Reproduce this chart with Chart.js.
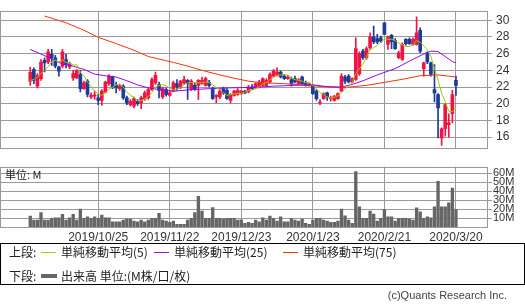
<!DOCTYPE html>
<html><head><meta charset="utf-8">
<script src="https://cdn.jsdelivr.net/npm/chart.js@4.4.1/dist/chart.umd.min.js"></script>
<style>
html,body{margin:0;padding:0;background:#fff;}
body{width:525px;height:307px;position:relative;overflow:hidden;font-family:"Noto Sans CJK JP","DejaVu Sans",sans-serif;color:#222;}
canvas{position:absolute;left:0;}
#c1{top:0;}
#c2{top:160px;}
.t{position:absolute;white-space:nowrap;font-size:11px;line-height:12px;}
.legend{position:absolute;left:0;top:243px;width:523px;height:40px;border:1px solid #000;}
.legend .t{font-size:12px;line-height:13px;}
.ln{position:absolute;height:1px;width:15px;}
.copy{position:absolute;right:18px;top:289px;font-family:"Liberation Sans",Arial,sans-serif;font-size:11px;color:#444;}
</style></head>
<body>
<canvas id="c1" width="525" height="160"></canvas>
<canvas id="c2" width="525" height="85"></canvas>
<div class="t" style="left:5px;top:168px;">単位: M</div>
<div class="legend">
  <div class="t" style="left:8px;top:1px;">上段:</div>
  <div class="ln" style="left:40px;top:8px;background:#99cc00;"></div>
  <div class="t" style="left:60px;top:1px;">単純移動平均(5)</div>
  <div class="ln" style="left:153px;top:8px;background:#9900ff;"></div>
  <div class="t" style="left:173px;top:1px;">単純移動平均(25)</div>
  <div class="ln" style="left:282px;top:8px;background:#ff3300;"></div>
  <div class="t" style="left:302px;top:1px;">単純移動平均(75)</div>
  <div class="t" style="left:8px;top:25px;">下段:</div>
  <div class="ln" style="left:40px;top:30px;height:4px;width:16px;background:#666;"></div>
  <div class="t" style="left:60px;top:25px;">出来高 単位:(M株/口/枚)</div>
</div>
<div class="copy">(c)Quants Research Inc.</div>
<script>
// ---- data (trading-day index 0..119) ----
const tickIdx = [19, 39, 59, 79, 99, 119];
const tickLabels = ['2019/10/25', '2019/11/22', '2019/12/23', '2020/1/23', '2020/2/21', '2020/3/20'];
const priceTicks = [16, 18, 20, 22, 24, 26, 28, 30];
const volTicks = [10, 20, 30, 40, 50, 60];

const open = [22.7,24.1,22.1,23.0,25.2,25.0,25.9,25.5,24.4,24.5,25.3,24.4,23.1,23.1,23.5,21.8,22.7,20.8,20.9,20.7,
20.4,21.4,22.4,23.2,22.2,21.8,22.1,20.7,19.9,19.7,20.3,20.1,20.6,20.7,21.7,22.5,22.3,20.8,21.7,21.0,
21.5,22.4,22.0,22.5,22.8,21.7,22.2,22.2,22.4,22.2,22.6,21.8,20.8,20.8,21.8,21.6,20.4,21.0,21.1,21.2,
21.5,21.4,22.0,21.9,22.0,22.2,22.2,22.6,23.3,23.4,23.8,23.3,23.0,22.9,23.0,22.4,23.2,22.5,22.2,22.2,
21.5,20.1,20.6,21.3,20.6,20.4,20.6,21.5,23.2,23.3,22.6,22.9,23.6,26.3,25.5,26.7,28.0,27.8,27.9,29.7,
27.1,28.2,27.6,25.5,25.3,27.7,27.7,27.1,27.1,28.8,24.2,26.1,24.9,21.7,21.1,15.9,17.0,17.5,18.8,22.8];
const high = [24.4,24.3,23.6,25.3,25.5,26.5,26.5,25.8,24.5,26.5,25.9,25.0,24.0,24.1,24.0,22.7,22.9,21.3,21.5,21.1,
21.7,22.7,23.5,23.3,22.6,22.3,22.3,20.9,20.5,20.8,20.5,20.9,21.5,21.9,23.1,23.8,22.6,22.0,21.9,21.6,
22.7,22.9,22.8,23.3,22.9,22.9,22.5,22.9,23.2,23.2,22.8,22.0,21.1,21.7,22.0,21.8,21.2,21.6,21.8,21.6,
21.6,22.2,22.3,22.5,22.8,23.1,23.0,23.7,24.1,24.3,23.9,23.5,23.4,23.2,23.3,23.0,23.3,22.7,22.5,22.3,
21.7,20.5,21.3,21.4,20.9,21.0,21.3,23.6,23.4,23.5,23.1,27.9,26.2,26.5,26.8,28.5,29.3,28.3,28.1,29.7,
28.1,28.3,27.8,26.3,27.3,27.8,27.9,27.9,30.4,29.1,25.0,26.2,25.0,24.7,21.2,17.1,20.0,18.8,21.6,23.3];
const low = [22.2,22.4,21.9,22.8,23.8,24.8,24.6,24.3,23.3,24.3,24.3,24.2,22.8,23.0,21.4,21.7,20.8,20.6,20.5,19.9,
19.8,21.3,22.2,21.8,21.3,21.6,20.5,19.9,19.7,19.5,19.8,19.4,20.4,20.5,21.6,22.3,20.7,20.6,20.9,20.9,
21.4,21.6,21.8,22.3,20.5,21.6,21.6,20.5,22.3,22.1,22.0,20.5,20.1,20.6,21.1,20.5,20.1,20.9,21.0,21.1,
21.2,21.3,21.7,21.8,21.9,22.1,22.1,22.5,23.2,23.3,23.1,22.9,22.9,22.1,22.5,22.3,22.3,22.1,22.1,21.1,
20.4,19.9,20.5,20.4,20.3,20.3,20.5,21.4,22.4,22.5,22.5,22.8,23.4,25.3,25.3,26.5,27.2,27.2,27.3,28.3,
26.5,26.6,26.5,25.4,25.2,27.0,27.1,27.0,27.0,26.1,23.3,24.8,23.3,20.2,15.9,15.0,16.1,16.0,17.7,21.0];
const close = [23.75,22.8,23.4,25.0,24.9,26.2,25.5,24.5,23.9,26.2,24.7,24.8,23.6,24.0,21.8,22.5,21.1,21.0,21.05,20.4,
21.5,22.6,23.3,22.0,21.9,22.1,20.7,20.1,20.3,20.6,20.0,20.7,21.3,21.7,22.9,23.4,21.6,21.8,21.1,21.3,
22.5,22.0,22.7,22.9,22.4,22.7,21.8,22.8,22.8,23.0,22.2,20.6,21.0,21.5,21.3,20.6,21.1,21.5,21.6,21.5,
21.3,22.0,21.8,22.4,22.6,23.0,22.8,23.5,23.9,23.8,23.2,23.0,23.2,22.4,22.6,22.9,22.4,22.2,22.4,21.2,
20.6,20.2,21.2,20.8,20.7,20.9,21.2,23.3,22.7,22.6,23.0,26.6,26.0,25.5,26.6,28.0,27.4,27.4,27.5,28.3,
28.0,27.4,26.6,26.1,27.1,27.2,27.2,27.7,28.5,26.3,24.9,25.0,23.5,21.3,19.5,17.0,19.9,17.7,21.1,22.2];
const volume = [12.2,7.8,7.8,16.3,7.8,7.8,9.6,10.4,10.4,14.1,7.8,10.4,14.1,7.8,20.0,9.6,11.5,9.6,11.5,9.6,
13.3,10.4,10.4,5.9,5.9,5.9,7.8,8.9,8.9,6.7,5.9,7.8,5.9,7.8,9.6,9.6,15.2,7.8,6.7,5.2,
6.7,3.0,3.0,3.0,7.8,9.6,16.3,34.4,17.8,9.6,9.6,21.8,9.6,9.6,8.9,9.6,9.6,9.6,7.8,8.0,
4.1,5.2,4.1,7.8,5.9,10.4,7.8,12.2,9.6,6.7,11.5,5.9,5.9,9.6,7.8,6.7,8.9,4.1,3.0,7.8,
9.6,9.6,7.8,6.7,5.2,5.2,6.7,20.0,12.6,7.8,4.1,62.2,22.6,9.6,9.6,17.8,14.4,6.7,9.6,19.6,
11.5,11.5,6.7,9.6,9.6,9.6,8.9,7.8,21.5,17.0,9.6,11.5,10.4,22.6,51.1,22.6,22.6,27.0,43.7,19.6];
const ma5 = [22.8,22.9,23.2,23.6,23.97,24.46,25.0,25.22,25.0,25.26,24.96,24.82,24.64,24.66,23.78,23.34,22.6,22.08,21.48,21.2,
21.0,21.3,21.76,21.96,22.26,22.38,22.0,21.36,21.02,20.76,20.34,20.34,20.58,20.86,21.32,22.0,22.18,22.28,22.16,21.84,
21.66,21.74,21.92,22.28,22.5,22.54,22.5,22.52,22.5,22.62,22.52,22.28,21.92,21.66,21.32,21.0,21.1,21.2,21.22,21.26,
21.4,21.58,21.64,21.8,22.02,22.36,22.52,22.86,23.16,23.4,23.44,23.48,23.42,23.12,22.88,22.82,22.7,22.5,22.5,22.22,
21.76,21.32,21.12,20.8,20.7,20.76,20.96,21.38,21.76,22.14,22.56,23.64,24.18,24.74,25.54,26.54,26.7,26.98,27.38,27.72,
27.72,27.72,27.56,27.28,27.04,26.88,26.84,27.06,27.54,27.38,26.92,26.48,25.64,24.2,22.84,21.26,20.24,19.08,19.04,19.5];
const ma25Idx = [0,3,6,9,12,15,18,21,24,27,30,33,36,40,44,50,56,62,68,74,79,83,87,90,93,97,102,106,110,112,114,116,118,119];
const ma25Val = [26.5,25.95,25.35,24.75,24.5,24.1,23.55,23.35,23.2,22.75,22.25,21.9,21.7,21.5,21.65,21.8,21.9,21.95,22.1,22.2,22.25,22.05,22.0,22.3,22.75,23.45,24.2,25.1,25.95,26.3,26.25,25.65,25.05,24.9];
const ma75Idx = [4,10,15,19,24,29,33,38,40,44,48,53,57,61,65,71,76,82,87,94,99,105,109,114,117,119];
const ma75Val = [30.5,29.7,28.8,27.95,27.2,26.4,25.65,25.15,24.95,24.5,24.0,23.45,23.05,22.7,22.5,22.4,22.25,22.05,21.9,22.2,22.55,23.0,23.35,23.45,23.3,23.2];

// ---- styling ----
const RED = '#f01446', BLUE = '#1e3a9a', GRID = '#9a9a9a';
const XMIN = -8.46, XMAX = 127.96;
Chart.defaults.font.family = '"Liberation Sans", Arial, sans-serif';
Chart.defaults.color = '#333';

const idx = close.map((_, i) => i);
const candleColor = c => close[c.dataIndex] >= open[c.dataIndex] ? RED : BLUE;
const frame = {
  id: 'frame',
  beforeDatasetsDraw(c) {
    const {ctx, chartArea: a} = c;
    ctx.save(); ctx.strokeStyle = GRID; ctx.lineWidth = 1;
    ctx.strokeRect(Math.round(a.left) + 0.5, Math.round(a.top) + 0.5, Math.round(a.right - a.left) - 1, Math.round(a.bottom - a.top) - 1);
    ctx.restore();
  }
};
const lineDs = (pts, color) => ({type: 'line', data: pts, borderColor: color, borderWidth: 1, pointRadius: 0, fill: false, tension: 0, order: 0});

new Chart(document.getElementById('c1'), {
  type: 'bar',
  data: {datasets: [
    lineDs(idx.map(i => ({x: i, y: ma5[i]})), '#99cc00'),
    lineDs(ma25Idx.map((x, k) => ({x, y: ma25Val[k]})), '#9900ff'),
    lineDs(ma75Idx.map((x, k) => ({x, y: ma75Val[k]})), '#ff3300'),
    {type: 'bar', data: idx.map(i => ({x: i, y: [low[i], high[i]]})), barThickness: 1, grouped: false, backgroundColor: candleColor, order: 2},
    {type: 'bar', data: idx.map(i => ({x: i, y: [open[i], close[i]]})), barThickness: 3, grouped: false, backgroundColor: candleColor, order: 1}
  ]},
  options: {
    responsive: false, animation: false, events: [],
    layout: {padding: {left: 0, top: 1, right: 0, bottom: 5}},
    plugins: {legend: {display: false}, tooltip: {enabled: false}},
    scales: {
      x: {type: 'linear', min: XMIN, max: XMAX, offset: false,
          afterBuildTicks: s => { s.ticks = tickIdx.map(v => ({value: v})); },
          ticks: {display: false}, grid: {color: GRID, drawTicks: false, offset: false}, border: {display: false},
          afterFit: s => { s.height = 0; }},
      y: {position: 'right', min: 14.6, max: 31.08,
          afterBuildTicks: s => { s.ticks = priceTicks.map(v => ({value: v})); },
          ticks: {font: {size: 12}, padding: 4, autoSkip: false, color: '#333'},
          grid: {color: GRID, tickLength: 4}, border: {display: false},
          afterFit: s => { s.width = 37; }}
    }
  },
  plugins: [frame]
});

new Chart(document.getElementById('c2'), {
  type: 'bar',
  data: {datasets: [
    {data: idx.map(i => ({x: i, y: volume[i]})), barThickness: 2.7, grouped: false, backgroundColor: '#666666'}
  ]},
  options: {
    responsive: false, animation: false, events: [],
    layout: {padding: {left: 0, top: 6, right: 0, bottom: 0}},
    plugins: {legend: {display: false}, tooltip: {enabled: false}},
    scales: {
      x: {type: 'linear', min: XMIN, max: XMAX, offset: false,
          afterBuildTicks: s => { s.ticks = tickIdx.map(v => ({value: v})); },
          ticks: {callback: v => tickLabels[tickIdx.indexOf(v)], maxRotation: 0, autoSkip: false, font: {size: 12}, padding: 3, color: '#333'},
          grid: {color: GRID, drawTicks: false, offset: false}, border: {display: false},
          afterFit: s => { s.height = 18; }},
      y: {position: 'right', min: 0, max: 67.8,
          afterBuildTicks: s => { s.ticks = volTicks.map(v => ({value: v})); },
          ticks: {callback: v => v + 'M', font: {size: 11, lineHeight: 1}, padding: 1, autoSkip: false, color: '#333'},
          grid: {color: GRID, tickLength: 4}, border: {display: false},
          afterFit: s => { s.width = 37; }}
    }
  },
  plugins: [frame]
});
</script>
</body></html>
